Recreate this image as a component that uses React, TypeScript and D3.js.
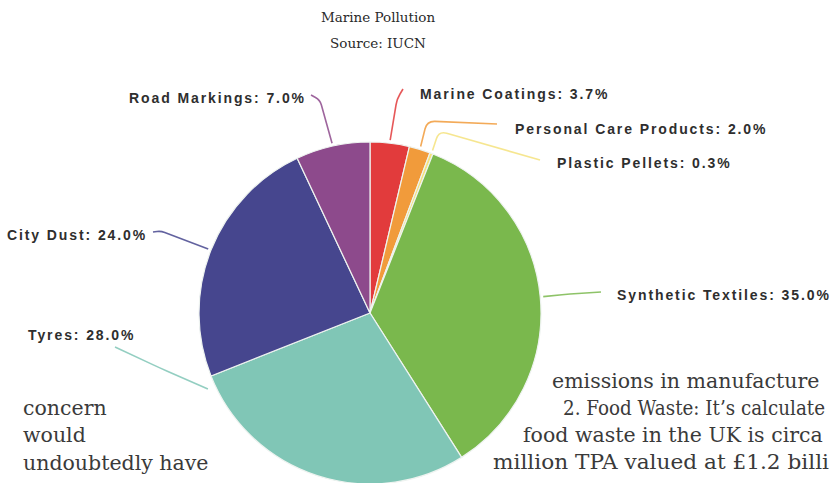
import React, { useEffect } from "react";
import * as d3 from "d3";

// ---- data ----
const categories = [
  "Marine Coatings",
  "Personal Care Products",
  "Plastic Pellets",
  "Synthetic Textiles",
  "Tyres",
  "City Dust",
  "Road Markings",
];
const values = [3.7, 2.0, 0.3, 35.0, 28.0, 24.0, 7.0];
const sliceColors = ["#e23b3c", "#f19b3b", "#f4e27c", "#7ab84d", "#80c6b6", "#46468e", "#8d4a8c"];
const titleLines = ["Marine Pollution", "Source: IUCN"];
const leftPageText = ["concern", "would", "undoubtedly have"];
const rightPageText = [
  "emissions in manufacture",
  "2. Food Waste: It\u2019s calculate",
  "food waste in the UK is circa",
  "million TPA valued at \u00a31.2 billi",
];

// ---- layout (annotation placement, not data) ----
const W = 836;
const H = 483;
const cx = 370;
const cy = 313;
const R = 171;
type Lay = { x: number; y: number; start: [number, number]; elbow: [number, number]; angleDeg?: number; gap?: number };
const labelLayout: Lay[] = [
  { x: 420, y: 99, start: [403, 89], elbow: [397, 99] },
  { x: 515, y: 134, start: [497, 124], elbow: [427, 121] },
  { x: 557, y: 168, start: [540, 160], elbow: [439, 131] },
  { x: 617, y: 300, start: [601, 292], elbow: [570, 294] },
  { x: 28, y: 340, start: [115, 347], elbow: [160, 368], angleDeg: 244.9, gap: 8 },
  { x: 7, y: 240, start: [153, 232], elbow: [161, 231] },
  { x: 129, y: 103, start: [311, 95], elbow: [320, 100] },
];
const leftLineX = [23, 23, 23];
const leftLineY = [415, 442, 470];
const rightLineX = [552, 563, 523, 493];
const rightLineY = [388, 415, 442, 469];
const rightLineLen: (number | undefined)[] = [undefined, 262, undefined, 336];

function roundedPath(a: [number, number], e: [number, number], b: [number, number], r: number) {
  const d1 = Math.hypot(a[0] - e[0], a[1] - e[1]);
  const d2 = Math.hypot(b[0] - e[0], b[1] - e[1]);
  const rr = Math.min(r, d1 / 2, d2 / 2);
  const p1 = [e[0] + ((a[0] - e[0]) / d1) * rr, e[1] + ((a[1] - e[1]) / d1) * rr];
  const p2 = [e[0] + ((b[0] - e[0]) / d2) * rr, e[1] + ((b[1] - e[1]) / d2) * rr];
  const p = d3.path();
  p.moveTo(a[0], a[1]);
  p.lineTo(p1[0], p1[1]);
  p.quadraticCurveTo(e[0], e[1], p2[0], p2[1]);
  p.lineTo(b[0], b[1]);
  return p.toString();
}

export default function App() {
  useEffect(() => {
    document.body.style.margin = "0";
    document.body.style.background = "#ffffff";
  }, []);

  const pie = d3
    .pie<number>()
    .sort(null)
    .value((d) => d)
    .startAngle(0)
    .endAngle(2 * Math.PI);
  const arcs = pie(values);
  const arc = d3.arc<d3.PieArcDatum<number>>().innerRadius(0).outerRadius(R);

  return (
    <svg width={W} height={H} style={{ display: "block", background: "#fff" }}>
      {/* title */}
      {titleLines.map((t, i) => (
        <text
          key={t}
          x={378}
          y={22 + i * 26}
          textAnchor="middle"
          fontFamily="'DejaVu Serif', serif"
          fontSize={13.5}
          fill="#2a2a2a"
        >
          {t}
        </text>
      ))}

      {/* leader lines */}
      {arcs.map((a, i) => {
        const lay = labelLayout[i];
        const ang = lay.angleDeg !== undefined ? (lay.angleDeg * Math.PI) / 180 : (a.startAngle + a.endAngle) / 2;
        const rr = R + (lay.gap ?? 3);
        const end: [number, number] = [cx + rr * Math.sin(ang), cy - rr * Math.cos(ang)];
        return (
          <path
            key={"l" + i}
            d={roundedPath(lay.start, lay.elbow, end, 8)}
            fill="none"
            stroke={sliceColors[i]}
            strokeWidth={1.6}
            strokeOpacity={0.85}
          />
        );
      })}

      {/* pie */}
      <g transform={`translate(${cx},${cy})`}>
        {arcs.map((a, i) => (
          <path key={categories[i]} d={arc(a) || ""} fill={sliceColors[i]} stroke="#eef3f0" strokeWidth={1.2} />
        ))}
      </g>

      {/* labels */}
      {arcs.map((a, i) => (
        <text
          key={"t" + i}
          x={labelLayout[i].x}
          y={labelLayout[i].y}
          fontFamily="'Liberation Sans', Arial, sans-serif"
          fontWeight="bold"
          fontSize={14}
          letterSpacing={1.9}
          fill="#2e2e2e"
        >
          {`${categories[i]}: ${values[i].toFixed(1)}%`}
        </text>
      ))}

      {/* surrounding page text */}
      {leftPageText.map((t, i) => (
        <text key={"lp" + i} x={leftLineX[i]} y={leftLineY[i]} fontFamily="'DejaVu Serif', serif" fontSize={20.5} fill="#3a3a3a">
          {t}
        </text>
      ))}
      {rightPageText.map((t, i) => (
        <text
          key={"rp" + i}
          x={rightLineX[i]}
          y={rightLineY[i]}
          fontFamily="'DejaVu Serif', serif"
          fontSize={20.5}
          fill="#3a3a3a"
          textLength={rightLineLen[i]}
          lengthAdjust={rightLineLen[i] ? "spacingAndGlyphs" : undefined}
        >
          {t}
        </text>
      ))}
    </svg>
  );
}
